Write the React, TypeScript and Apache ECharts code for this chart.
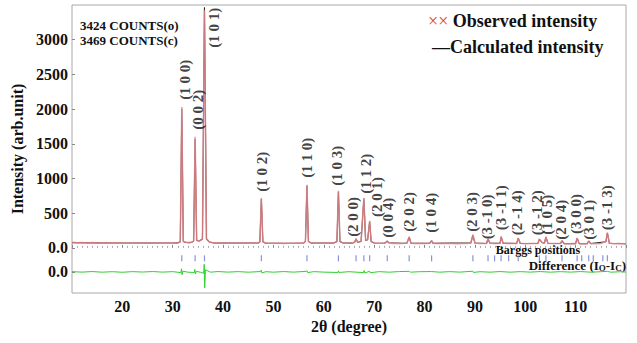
import React, { useEffect, useRef } from 'react';
import * as echarts from 'echarts';

// ---- data ----
const observed: number[][] = [
  [10, 80], [11, 74], [12, 78], [13, 72], [14, 76], [15, 70], [16, 74], [17, 69], [18, 73], [19, 70],
  [20, 72], [21, 68], [22, 71], [23, 67], [24, 70], [25, 66], [26, 70], [27, 67], [28, 71], [29, 68],
  [30, 72], [31, 74], [31.5, 90], [31.8, 2030], [32.1, 95], [32.6, 80], [33.2, 76], [33.8, 80],
  [34.15, 100], [34.45, 1600], [34.75, 110], [35.3, 100], [35.9, 130], [36.3, 3424], [36.7, 130],
  [37.3, 85], [38, 74], [39, 70], [40, 72], [41, 68], [42, 70], [43, 66], [44, 69], [45, 67], [46, 70],
  [47, 72], [47.3, 90], [47.6, 720], [47.9, 90], [48.4, 70], [49, 68], [50, 66], [51, 69], [52, 65],
  [53, 68], [54, 66], [55, 69], [56, 72], [56.35, 95], [56.65, 908], [56.95, 95], [57.5, 70], [58, 67],
  [59, 70], [60, 66], [61, 69], [62, 72], [62.6, 95], [62.9, 822], [63.2, 95], [63.8, 72], [64.5, 66],
  [65.5, 70], [66.1, 80], [66.4, 130], [66.7, 85], [67.4, 95], [67.95, 720], [68.3, 110], [68.7, 120],
  [69.1, 390], [69.4, 95], [70, 72], [71, 66], [72, 68], [72.3, 80], [72.6, 100], [72.9, 75], [73.5, 65],
  [74.5, 68], [75.5, 64], [76.5, 70], [76.95, 160], [77.3, 70], [78, 64], [79, 67], [80, 63], [81, 68],
  [81.4, 105], [81.7, 66], [82.5, 62], [83.5, 66], [84.5, 62], [85.5, 65], [86.5, 61], [87.5, 64],
  [88.5, 62], [89.2, 75], [89.6, 190], [90, 72], [91, 62], [92.3, 64], [92.6, 130], [93, 68], [94, 64],
  [95, 66], [95.2, 163], [95.6, 70], [96.5, 62], [97.5, 66], [98.3, 64], [98.6, 144], [99, 66], [100, 61],
  [101, 64], [102, 62], [102.5, 63], [102.8, 130], [103.3, 80], [103.8, 68], [104.1, 160], [104.5, 68],
  [105.5, 62], [106.5, 64], [107, 63], [107.3, 105], [107.7, 64], [108.5, 60], [109.5, 64], [110, 62],
  [110.3, 144], [110.7, 64], [111.5, 60], [112.3, 61], [112.6, 100], [113, 62], [114, 60], [115, 63],
  [116, 90], [116.3, 220], [116.7, 70], [117.5, 60], [118.5, 62], [119.5, 59], [120, 61],
];

const calculated: number[][] = [
  [10, 76], [15, 73], [20, 71], [25, 69], [30, 70], [31, 72], [31.5, 88], [31.8, 2000], [32.1, 92],
  [32.6, 78], [33.2, 76], [33.8, 80], [34.15, 98], [34.45, 1570], [34.75, 108], [35.3, 100], [35.9, 128],
  [36.3, 3469], [36.7, 128], [37.3, 84], [38, 73], [42, 69], [47, 70], [47.3, 88], [47.6, 705],
  [47.9, 88], [48.4, 69], [52, 67], [56, 70], [56.35, 93], [56.65, 895], [56.95, 93], [57.5, 69],
  [62, 70], [62.6, 93], [62.9, 810], [63.2, 93], [63.8, 70], [65.5, 68], [66.1, 78], [66.4, 128],
  [66.7, 83], [67.4, 93], [67.95, 710], [68.3, 108], [68.7, 118], [69.1, 380], [69.4, 93], [70, 70],
  [72, 67], [72.3, 78], [72.6, 98], [72.9, 74], [75.5, 66], [76.5, 68], [76.95, 155], [77.3, 68],
  [81, 65], [81.4, 102], [81.7, 65], [89.2, 72], [89.6, 185], [90, 70], [92.3, 64], [92.6, 125],
  [93, 66], [95, 65], [95.2, 158], [95.6, 66], [98.3, 64], [98.6, 140], [99, 64], [102.5, 63],
  [102.8, 125], [103.3, 78], [103.8, 68], [104.1, 155], [104.5, 65], [107, 63], [107.3, 102],
  [107.7, 62], [110, 62], [110.3, 140], [110.7, 62], [112.3, 61], [112.6, 97], [113, 61], [116, 88],
  [116.3, 215], [116.7, 66], [120, 60],
];

// Io - Ic
const difference: number[][] = [
  [10, 4], [12, -3], [14, 5], [16, -4], [18, 3], [20, -5], [22, 4], [24, -2], [26, 5], [28, -3], [30, 4],
  [31.6, -10], [31.75, 45], [31.85, -40], [32, 10], [33, -4], [34.3, -8], [34.4, 35], [34.5, -30],
  [34.7, 8], [35.5, -5], [36.15, -20], [36.25, 110], [36.35, -230], [36.5, 30], [37.5, -4], [39, 5],
  [41, -3], [43, 4], [45, -4], [47.4, 5], [47.55, 25], [47.7, -15], [48.5, 3], [50, -4], [52, 5],
  [54, -3], [56.5, 8], [56.65, 18], [56.8, -10], [58, 4], [60, -3], [62.8, -8], [62.9, 15], [63, -8],
  [65, 3], [67.9, -10], [68, 20], [68.15, -15], [69.1, 10], [69.2, -12], [71, 4], [73, -4], [75, 5],
  [77, 8], [77.2, -4], [79, 3], [81.4, 5], [83, -4], [85, 4], [87, -3], [89.6, 10], [89.7, -8], [91, 3],
  [93, -4], [95, 5], [97, -4], [99, 4], [101, -3], [103, 5], [105, -4], [107, 4], [109, -3], [111, 5],
  [113, -4], [115, 3], [116.3, 8], [117, -4], [119, 3], [120, -2],
];

const braggPositions: number[] = [
  31.8, 34.45, 36.3, 47.6, 56.65, 62.9, 66.4, 67.95, 69.1, 72.6, 76.95, 81.4, 89.6, 92.6, 93.9,
  95.2, 96.7, 98.6, 102.8, 104.1, 107.3, 110.3, 111.2, 112.6, 113.5, 115.4, 116.3,
];

const hklNames: string[] = [
  '(1 0 0)', '(0 0 2)', '(1 0 1)', '(1 0 2)', '(1 1 0)', '(1 0 3)', '(2 0 0)', '(1 1 2)', '(2 0 1)',
  '(0 0 4)', '(2 0 2)', '(1 0 4)', '(2 0 3)', '(3 -1 0)', '(3 -1 1)', '(2 -1 4)', '(3 -1 2)',
  '(1 0 5)', '(2 0 4)', '(3 0 0)', '(3 0 1)', '(3 -1 3)',
];
const hklX: number[] = [
  32.44, 34.92, 38.2, 47.67, 56.66, 62.62, 65.74, 68.32, 70.5, 72.75, 76.92, 81.29, 89.43, 92.41,
  95.13, 98.37, 102.34, 104.26, 107.04, 110.08, 112.66, 116.17,
];
const hklY: number[] = [
  2423, 1990, 3172, 1096, 1298, 1182, 447, 1067, 735, 433, 519, 505, 519, 447, 577, 505, 505, 476,
  404, 490, 404, 577,
];

const yTickValues: number[] = [0, 500, 1000, 1500, 2000, 2500, 3000];
const DIFF_ZERO = -346; // baseline of the difference curve
const BRAGG_Y = -151;   // row of Bragg position ticks
const observedMax = 3424;
const calculatedMax = 3469;

export default function App() {
  const ref = useRef<HTMLDivElement>(null);
  useEffect(() => {
    const chart = echarts.init(ref.current!, null, { renderer: 'svg' });
    const font = 'Liberation Serif';
    const labelValues = [DIFF_ZERO, ...yTickValues];
    chart.setOption({
      animation: false,
      backgroundColor: '#ffffff',
      grid: {
        left: 72, right: 11, top: 5, bottom: 50,
        show: true, borderColor: '#a8a8a8', borderWidth: 1,
        outerBoundsMode: 'none',
      },
      xAxis: {
        type: 'value', min: 10, max: 120, interval: 10,
        name: '2θ (degree)', nameLocation: 'middle', nameGap: 24,
        nameTextStyle: { fontFamily: font, fontWeight: 'bold', fontSize: 16, color: '#111' },
        axisLine: { show: false },
        axisTick: { show: true, inside: true, length: 3, lineStyle: { color: '#888' } },
        minorTick: { show: true, splitNumber: 10, length: 2, lineStyle: { color: '#aaa' } },
        splitLine: { show: false },
        axisLabel: {
          showMinLabel: false, showMaxLabel: false, margin: 5,
          fontFamily: font, fontWeight: 'bold', fontSize: 16, color: '#111',
        },
      },
      yAxis: {
        type: 'value', min: -650, max: 3500,
        name: 'Intensity (arb.unit)', nameLocation: 'middle', nameGap: 42,
        nameTextStyle: { fontFamily: font, fontWeight: 'bold', fontSize: 16, color: '#111' },
        axisLine: { show: false },
        axisTick: { show: true, inside: true, length: 3, customValues: labelValues, lineStyle: { color: '#888' } },
        splitLine: { show: false },
        axisLabel: {
          customValues: labelValues, margin: 4,
          fontFamily: font, fontWeight: 'bold', fontSize: 16, color: '#111',
          formatter: (v: number) => (v <= 0 ? '0.0' : String(Math.round(v))),
        },
      },
      series: [
        {
          name: 'Calculated intensity', type: 'line', data: calculated, symbol: 'none', z: 2,
          lineStyle: { color: '#2a2a2a', width: 1.1 },
        },
        {
          name: 'Observed intensity', type: 'line', data: observed, symbol: 'none', z: 3,
          lineStyle: { color: '#e8868c', width: 1.5, opacity: 0.85 },
        },
        {
          name: 'Difference', type: 'line', symbol: 'none', z: 3,
          data: difference.map((d) => [d[0], d[1] + DIFF_ZERO]),
          lineStyle: { color: '#2fd02f', width: 1 },
        },
        {
          name: 'Bragg positions', type: 'scatter', symbol: 'rect', symbolSize: [1.2, 6], z: 3,
          data: braggPositions.map((x) => [x, BRAGG_Y]),
          itemStyle: { color: '#6a78d0' },
        },
        {
          name: 'hkl', type: 'scatter', symbolSize: 1, z: 4, silent: true,
          data: hklNames.map((n, i) => ({ value: [hklX[i], hklY[i]], name: n })),
          itemStyle: { color: 'rgba(0,0,0,0)' },
          label: {
            show: true, position: 'inside', rotate: 90, formatter: '{b}',
            fontFamily: font, fontWeight: 'bold', fontSize: 15, color: '#111',
          },
        },
      ],
      graphic: [
        {
          type: 'text', x: 80, y: 25,
          style: { text: `${observedMax} COUNTS(o)`, fontFamily: font, fontWeight: 'bold', fontSize: 13, fill: '#111', verticalAlign: 'middle' },
        },
        {
          type: 'text', x: 80, y: 40,
          style: { text: `${calculatedMax} COUNTS(c)`, fontFamily: font, fontWeight: 'bold', fontSize: 13, fill: '#111', verticalAlign: 'middle' },
        },
        {
          type: 'text', x: 428, y: 21,
          style: {
            text: '{r|××} Observed intensity', fontFamily: font, fontWeight: 'bold', fontSize: 18, fill: '#111',
            verticalAlign: 'middle',
            rich: { r: { fill: '#e03a3a', fontFamily: font, fontSize: 18, fontWeight: 'normal' } },
          },
        },
        {
          type: 'text', x: 432, y: 47,
          style: { text: '—Calculated intensity', fontFamily: font, fontWeight: 'bold', fontSize: 18, fill: '#111', verticalAlign: 'middle' },
        },
        {
          type: 'text', x: 538, y: 250,
          style: { text: 'Barggs positions', fontFamily: font, fontWeight: 'bold', fontSize: 12, fill: '#111', align: 'center', verticalAlign: 'middle' },
        },
        {
          type: 'text', x: 626, y: 265,
          style: {
            text: 'Difference (I{s|O}-I{s|C})', fontFamily: font, fontWeight: 'bold', fontSize: 13, fill: '#111',
            align: 'right', verticalAlign: 'middle',
            rich: { s: { fontFamily: font, fontWeight: 'bold', fontSize: 9, fill: '#111', padding: [6, 0, 0, 0] } },
          },
        },
      ],
    });
    return () => chart.dispose();
  }, []);
  return (
    <div
      ref={ref}
      style={{ position: 'fixed', left: 0, top: 0, width: 637, height: 343, background: '#fff' }}
    />
  );
}
